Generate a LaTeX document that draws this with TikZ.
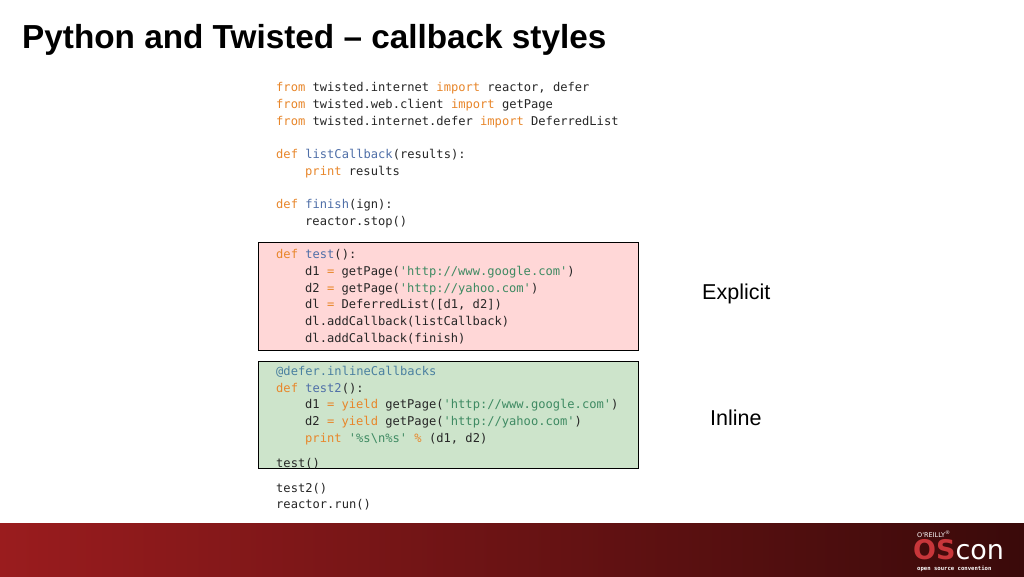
\documentclass[tikz,border=0pt]{standalone}
\usepackage{fontspec}
\setmainfont{Liberation Sans}
\newfontfamily\code{DejaVu Sans Mono}
\newfontfamily\logofont{DejaVu Sans}
\definecolor{kw}{HTML}{E8862A}
\definecolor{fn}{HTML}{4F6FA8}
\definecolor{st}{HTML}{3E8A62}
\definecolor{dc}{HTML}{4A80A0}
\definecolor{pinkbg}{HTML}{FFD7D7}
\definecolor{greenbg}{HTML}{CDE4CB}
\definecolor{barA}{HTML}{9A1C1E}
\definecolor{barB}{HTML}{3A0A0A}
\newcommand{\K}[1]{\textcolor{kw}{#1}}
\newcommand{\F}[1]{\textcolor{fn}{#1}}
\newcommand{\Sx}[1]{\textcolor{st}{#1}}
\begin{document}
\begin{tikzpicture}[x=1pt,y=-1pt,
  cl/.style={anchor=base west,inner sep=0pt,font=\code\fontsize{12.1}{12}\selectfont,text=black!85},
  box/.style={draw=black,line width=0.8pt}]
\useasboundingbox (0,0) rectangle (1024,576);
\fill[white] (0,0) rectangle (1024,576);
\node[anchor=base west,inner sep=0pt,font=\bfseries\fontsize{33.3}{36}\selectfont] (title) at (22,48) {Python and Twisted -- callback styles};
\node[box,fill=pinkbg,minimum width=380pt,minimum height=108pt,anchor=north west,inner sep=0pt] (explbox) at (258,242) {};
\node[box,fill=greenbg,minimum width=380pt,minimum height=107pt,anchor=north west,inner sep=0pt] (inlbox) at (258,361) {};
\def\xa{276}\def\xb{305}
\node[cl] (l1) at (\xa,91) {\K{from} twisted.internet \K{import} reactor, defer};
\node[cl] (l2) at (\xa,108) {\K{from} twisted.web.client \K{import} getPage};
\node[cl] (l3) at (\xa,125) {\K{from} twisted.internet.defer \K{import} DeferredList};
\node[cl] (l4) at (\xa,158) {\K{def} \F{listCallback}(results):};
\node[cl] (l5) at (\xb,175) {\K{print} results};
\node[cl] (l6) at (\xa,208) {\K{def} \F{finish}(ign):};
\node[cl] (l7) at (\xb,225) {reactor.stop()};
\node[cl] (l8) at (\xa,258) {\K{def} \F{test}():};
\node[cl] (l9) at (\xb,275) {d1 \K{=} getPage(\Sx{'http://www.google.com'})};
\node[cl] (l10) at (\xb,292) {d2 \K{=} getPage(\Sx{'http://yahoo.com'})};
\node[cl] (l11) at (\xb,308) {dl \K{=} DeferredList([d1, d2])};
\node[cl] (l12) at (\xb,325) {dl.addCallback(listCallback)};
\node[cl] (l13) at (\xb,342) {dl.addCallback(finish)};
\node[cl] (l14) at (\xa,375) {\textcolor{dc}{@defer.inlineCallbacks}};
\node[cl] (l15) at (\xa,392) {\K{def} \F{test2}():};
\node[cl] (l16) at (\xb,408) {d1 \K{= yield} getPage(\Sx{'http://www.google.com'})};
\node[cl] (l17) at (\xb,425) {d2 \K{= yield} getPage(\Sx{'http://yahoo.com'})};
\node[cl] (l18) at (\xb,442) {\K{print} \Sx{'\%s\textbackslash n\%s'} \K{\%} (d1, d2)};
\node[cl] (l19) at (\xa,467) {test()};
\node[cl] (l20) at (\xa,492) {test2()};
\node[cl] (l21) at (\xa,508) {reactor.run()};
\node[anchor=base west,inner sep=0pt,font=\fontsize{21.5}{24}\selectfont] (explicit) at (702,299) {Explicit};
\node[anchor=base west,inner sep=0pt,font=\fontsize{21.5}{24}\selectfont] (inline) at (710,425) {Inline};
\shade[left color=barA,right color=barB] (0,523) rectangle (1024,576);
\node[anchor=base west,inner sep=0pt,text=white,font=\logofont\fontsize{6.5}{7}\selectfont] (oreilly) at (917,537) {O'REILLY\textsuperscript{\tiny\textregistered}};
\node[anchor=base west,inner sep=0pt,font=\logofont\fontsize{27}{27}\selectfont] (oscon) at (913,559) {\textcolor[HTML]{C8363A}{\bfseries OS}\textcolor{white}{con}};
\node[anchor=base west,inner sep=0pt,text=white,font=\code\bfseries\fontsize{5.6}{6}\selectfont] (osc) at (917,570) {open source convention};
\end{tikzpicture}
\end{document}
